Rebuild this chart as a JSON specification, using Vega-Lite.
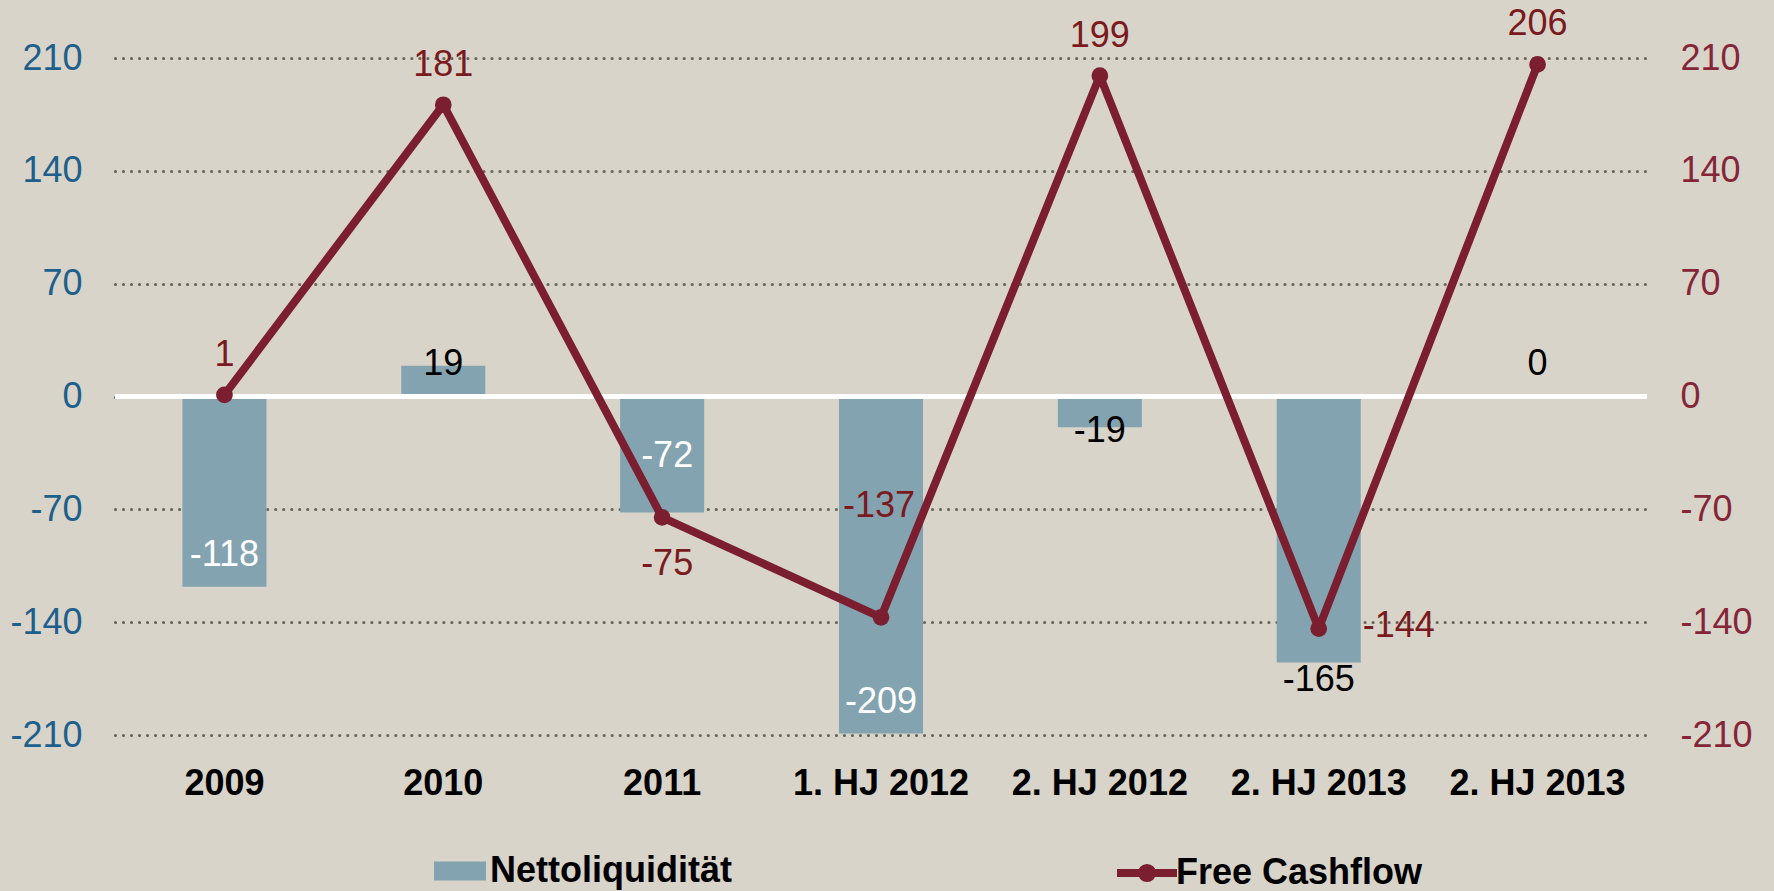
{
  "$schema": "https://vega.github.io/schema/vega-lite/v6.json",
  "width": 1532,
  "height": 677,
  "autosize": {"type": "none"},
  "padding": {"left": 115, "top": 58, "right": 127, "bottom": 156},
  "background": "#D8D4C9",
  "config": {
    "view": {"stroke": null},
    "font": "Liberation Sans",
    "axis": {"labelFont": "Liberation Sans", "labelFontSize": 36, "domain": false, "ticks": false, "title": null},
    "text": {"font": "Liberation Sans", "fontSize": 36, "baseline": "alphabetic", "align": "center"}
  },
  "data": {
    "values": [
      {"cat": "2009", "netto": -118, "fcf": 1},
      {"cat": "2010", "netto": 19, "fcf": 181},
      {"cat": "2011", "netto": -72, "fcf": -75},
      {"cat": "1. HJ 2012", "netto": -209, "fcf": -137},
      {"cat": "2. HJ 2012", "netto": -19, "fcf": 199},
      {"cat": "2. HJ 2013|a", "netto": -165, "fcf": -144},
      {"cat": "2. HJ 2013", "netto": 0, "fcf": 206}
    ]
  },
  "layer": [
    {
      "encoding": {
        "x": {
          "field": "cat", "type": "nominal",
          "scale": {"domain": ["2009", "2010", "2011", "1. HJ 2012", "2. HJ 2012", "2. HJ 2013|a", "2. HJ 2013"], "paddingInner": 0.616, "paddingOuter": 0.308},
          "axis": {"labelExpr": "split(datum.value, '|')[0]", "labelFontWeight": "bold", "labelColor": "#000000", "labelPadding": 31, "labelLimit": 0, "labelAngle": 0, "grid": false}
        },
        "y": {
          "field": "netto", "type": "quantitative",
          "scale": {"domain": [-210, 210], "nice": false},
          "axis": {"values": [-210, -140, -70, 0, 70, 140, 210], "labelExpr": "'' + datum.value", "labelColor": "#1E5F8C", "labelPadding": 33, "grid": true, "gridColor": "#67665A", "gridDash": [0.01, 8], "gridWidth": 3.2, "gridCap": "round", "orient": "left"}
        }
      },
      "layer": [
        {
          "mark": {"type": "bar"},
          "encoding": {
            "fill": {
              "datum": "Nettoliquidität", "type": "nominal",
              "scale": {"range": ["#84A3B0"]},
              "legend": {"orient": "none", "legendX": 319, "legendY": 787, "title": null, "padding": 0, "symbolType": "M-1,-0.365L1,-0.365L1,0.365L-1,0.365Z", "symbolSize": 2704, "symbolStrokeWidth": 0, "labelFont": "Liberation Sans", "labelFontSize": 36, "labelFontWeight": "bold", "labelColor": "#000000", "labelOffset": 4, "labelLimit": 0}
            }
          }
        },
        {
          "transform": [{"filter": {"field": "cat", "oneOf": ["2009", "1. HJ 2012"]}}],
          "mark": {"type": "text", "color": "#FFFFFF", "dy": -20.5},
          "encoding": {"text": {"field": "netto", "type": "nominal"}}
        },
        {
          "transform": [{"filter": {"field": "cat", "equal": "2011"}}],
          "mark": {"type": "text", "color": "#FFFFFF", "dy": -46, "dx": 5},
          "encoding": {"text": {"field": "netto", "type": "nominal"}}
        },
        {
          "transform": [{"filter": {"field": "cat", "equal": "2010"}}],
          "mark": {"type": "text", "color": "#000000", "dy": 9},
          "encoding": {"text": {"field": "netto", "type": "nominal"}}
        },
        {
          "transform": [{"filter": {"field": "cat", "equal": "2. HJ 2012"}}],
          "mark": {"type": "text", "color": "#000000", "dy": 15},
          "encoding": {"text": {"field": "netto", "type": "nominal"}}
        },
        {
          "transform": [{"filter": {"field": "cat", "equal": "2. HJ 2013|a"}}],
          "mark": {"type": "text", "color": "#000000", "dy": 29},
          "encoding": {"text": {"field": "netto", "type": "nominal"}}
        },
        {
          "transform": [{"filter": {"field": "cat", "equal": "2. HJ 2013"}}],
          "mark": {"type": "text", "color": "#000000", "dy": -21.5},
          "encoding": {"text": {"field": "netto", "type": "nominal"}}
        }
      ]
    },
    {
      "mark": {"type": "rule", "color": "#FFFFFF", "strokeWidth": 5},
      "encoding": {"y": {"datum": 0, "type": "quantitative", "scale": {"domain": [-210, 210], "nice": false}, "axis": null}}
    },
    {
      "encoding": {
        "x": {"field": "cat", "type": "nominal"},
        "y": {
          "field": "fcf", "type": "quantitative",
          "scale": {"domain": [-210, 210], "nice": false},
          "axis": {"orient": "right", "values": [-210, -140, -70, 0, 70, 140, 210], "labelExpr": "'' + datum.value", "labelColor": "#842638", "labelPadding": 33, "grid": false}
        }
      },
      "layer": [
        {
          "mark": {"type": "line", "strokeWidth": 8, "strokeJoin": "round"},
          "encoding": {
            "stroke": {
              "datum": "Free Cashflow", "type": "nominal",
              "scale": {"range": ["#7B1F30"]},
              "legend": {"orient": "none", "legendX": 998, "legendY": 781, "title": null, "padding": 0, "symbolType": "M-1,0L1,0M-0.17,0A0.17,0.17 0 1,1 0.17,0A0.17,0.17 0 1,1 -0.17,0", "symbolSize": 3600, "symbolStrokeWidth": 8, "symbolStrokeColor": "#7B1F30", "symbolFillColor": "#7B1F30", "labelFont": "Liberation Sans", "labelFontSize": 36, "labelFontWeight": "bold", "labelColor": "#000000", "labelOffset": -5, "labelLimit": 0}
            }
          }
        },
        {
          "mark": {"type": "point", "filled": true, "size": 280, "color": "#7B1F30", "opacity": 1}
        },
        {
          "transform": [{"filter": {"field": "cat", "oneOf": ["2009", "2010", "2. HJ 2012", "2. HJ 2013"]}}],
          "mark": {"type": "text", "color": "#7A1A1E", "dy": -29},
          "encoding": {"text": {"field": "fcf", "type": "nominal"}}
        },
        {
          "transform": [{"filter": {"field": "cat", "equal": "2011"}}],
          "mark": {"type": "text", "color": "#7A1A1E", "dy": 57.5, "dx": 5},
          "encoding": {"text": {"field": "fcf", "type": "nominal"}}
        },
        {
          "transform": [{"filter": {"field": "cat", "equal": "1. HJ 2012"}}],
          "mark": {"type": "text", "color": "#7A1A1E", "dy": -100, "dx": -2},
          "encoding": {"text": {"field": "fcf", "type": "nominal"}}
        },
        {
          "transform": [{"filter": {"field": "cat", "equal": "2. HJ 2013|a"}}],
          "mark": {"type": "text", "color": "#7A1A1E", "dy": 8, "dx": 44, "align": "left"},
          "encoding": {"text": {"field": "fcf", "type": "nominal"}}
        }
      ]
    }
  ],
  "resolve": {"scale": {"y": "independent", "fill": "independent", "stroke": "independent"}}
}
